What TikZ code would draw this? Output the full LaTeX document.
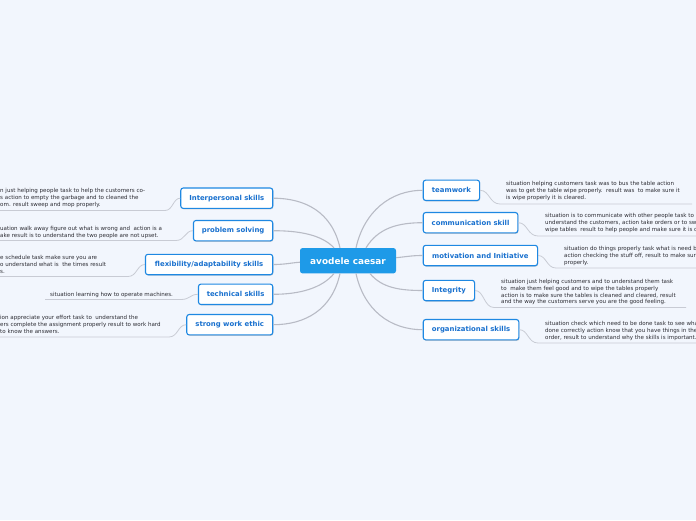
\documentclass[tikz,border=0pt]{standalone}
\usepackage{fontspec}
\setmainfont{DejaVu Sans}
\usetikzlibrary{shadows}
\definecolor{bg}{RGB}{242,246,253}
\definecolor{mainblue}{RGB}{30,154,232}
\definecolor{kidblue}{RGB}{30,136,226}
\definecolor{kidtext}{RGB}{24,112,206}
\definecolor{conn}{RGB}{184,187,197}
\definecolor{uln}{RGB}{200,203,212}
\definecolor{leaftext}{RGB}{45,45,52}
\begin{document}
\begin{tikzpicture}[x=1pt,y=-1pt,
  root/.style={fill=mainblue, rounded corners=2.5pt, text=white,
    font=\bfseries\fontsize{8.9}{10}\selectfont, minimum width=96pt,
    minimum height=25.3pt, inner sep=0pt},
  kid/.style={draw=kidblue, line width=1.1pt, fill=white, rounded corners=2.5pt,
    text=kidtext, font=\bfseries\fontsize{6.9}{8}\selectfont,
    minimum height=20.4pt, inner sep=0pt,
    drop shadow={shadow xshift=0.6pt, shadow yshift=-0.9pt, opacity=0.25, fill=black!70}},
  leaf/.style={anchor=north west, align=left, inner sep=0pt, text=leaftext,
    font=\fontsize{5.55}{6.9}\selectfont},
  link/.style={draw=conn, line width=1.1pt},
  leafline/.style={draw=uln, line width=0.8pt}
]
\fill[bg] (0,0) rectangle (696,520);
\useasboundingbox (0,0) rectangle (696,520);

% root
\node[root] (root) at (348,260.7) {avodele caesar};

% right children
\node[kid, anchor=west, minimum width=56.3pt]  (tw) at (422.7,190.3) {teamwork};
\node[kid, anchor=west, minimum width=94.6pt]  (cs) at (422.7,222.7) {communication skill};
\node[kid, anchor=west, minimum width=114.3pt] (mi) at (422.7,255.5) {motivation and Initiative};
\node[kid, anchor=west, minimum width=51.3pt]  (ig) at (422.7,290.5) {Integrity};
\node[kid, anchor=west, minimum width=95.6pt]  (os) at (422.7,329.7) {organizational skills};

% left children
\node[kid, anchor=east, minimum width=92pt]    (ip) at (273.3,198.2) {Interpersonal skills};
\node[kid, anchor=east, minimum width=79.3pt]  (ps) at (273.3,230.7) {problem solving};
\node[kid, anchor=east, minimum width=127.3pt] (fx) at (273.3,264.5) {flexibility/adaptability skills};
\node[kid, anchor=east, minimum width=74.3pt]  (ts) at (273.3,294.3) {technical skills};
\node[kid, anchor=east, minimum width=86pt]    (sw) at (273.3,324.7) {strong work ethic};

% root connectors
\draw[link] ([xshift=8pt]root.north) .. controls (364,212) and (390,190.3) .. (tw.west);
\draw[link] ([xshift=18pt]root.north) .. controls (378,228) and (398,222.7) .. (cs.west);
\draw[link] ([yshift=3pt]root.east) .. controls (408,256.5) and (412,255.5) .. (mi.west);
\draw[link] ([xshift=22pt]root.south) .. controls (382,288) and (400,290.5) .. (ig.west);
\draw[link] ([xshift=8pt]root.south) .. controls (364,310) and (390,329.7) .. (os.west);
\draw[link] ([xshift=-8pt]root.north) .. controls (332,212) and (305,198.2) .. (ip.east);
\draw[link] ([xshift=-14pt]root.north) .. controls (322,235) and (300,230.7) .. (ps.east);
\draw[link] ([yshift=-1.5pt]root.west) .. controls (290,263) and (285,264.5) .. (fx.east);
\draw[link] ([xshift=-14pt]root.south) .. controls (322,288) and (300,294.3) .. (ts.east);
\draw[link] ([xshift=-8pt]root.south) .. controls (332,310) and (305,324.7) .. (sw.east);

% underline coordinates
\coordinate (twA) at (500,204);   \coordinate (twB) at (692,204);
\coordinate (csA) at (538,236);   \coordinate (csB) at (696,236);
\coordinate (miA) at (556,268);   \coordinate (miB) at (696,268);
\coordinate (igA) at (494,307.5); \coordinate (igB) at (686,307.5);
\coordinate (osA) at (538,343);   \coordinate (osB) at (696,343);
\coordinate (ipA) at (165,210.5); \coordinate (ipB) at (0,210.5);
\coordinate (psA) at (176,240.5); \coordinate (psB) at (0,240.5);
\coordinate (fxA) at (128,276.5); \coordinate (fxB) at (0,276.5);
\coordinate (tsA) at (181,299.5); \coordinate (tsB) at (45,299.5);
\coordinate (swA) at (169,337);   \coordinate (swB) at (0,337);

% leaf connectors
\draw[leafline] (tw.east) .. controls (489.5,190.3) and (489.5,204) .. (twA) -- (twB);
\draw[leafline] (cs.east) .. controls (527.5,222.7) and (527.5,236) .. (csA) -- (csB);
\draw[leafline] (mi.east) .. controls (546.5,255.5) and (546.5,268) .. (miA) -- (miB);
\draw[leafline] (ig.east) .. controls (484,290.5) and (484,307.5) .. (igA) -- (igB);
\draw[leafline] (os.east) .. controls (528,329.7) and (528,343) .. (osA) -- (osB);
\draw[leafline] (ip.west) .. controls (173,198.2) and (173,210.5) .. (ipA) -- (ipB);
\draw[leafline] (ps.west) .. controls (185,230.7) and (185,240.5) .. (psA) -- (psB);
\draw[leafline] (fx.west) .. controls (137,264.5) and (137,276.5) .. (fxA) -- (fxB);
\draw[leafline] (ts.west) .. controls (190,294.3) and (190,299.5) .. (tsA) -- (tsB);
\draw[leafline] (sw.west) .. controls (178,324.7) and (178,337) .. (swA) -- (swB);

% leaf texts right
\node[leaf] (twT) at (506,180.8) {situation helping customers task was to bus the table action\\was to get the table wipe properly.\ \ result was\ \ to make sure it\\is wipe properly it is cleared.};
\node[leaf] (csT) at (545,212.8) {situation is to communicate with other people task to\\understand the customers, action take orders or to sw\\wipe tables\ \ result to help people and make sure it is c};
\node[leaf] (miT) at (564,245.8) {situation do things properly task what is need b\\action checking the stuff off, result to make sur\\properly.};
\node[leaf] (igT) at (501,278.8) {situation just helping customers and to understand them task\\to\ \ make them feel good and to wipe the tables properly\\action is to make sure the tables is cleaned and cleared, result\\and the way the customers serve you are the good feeling.};
\node[leaf] (osT) at (545,320.8) {situation check which need to be done task to see wha\\done correctly action know that you have things in the\\order, result to understand why the skills is important.};

% leaf texts left
\node[leaf] (ipT) at (0,187.8) {n just helping people task to help the customers co-\\s action to empty the garbage and to cleaned the\\om. result sweep and mop properly.};
\node[leaf] (psT) at (0,225.8) {uation walk away figure out what is wrong and\ \ action is a\\ake result is to understand the two people are not upset.};
\node[leaf] (fxT) at (0,254.8) {e schedule task make sure you are\\o understand what is\ \ the times result\\s.};
\node[leaf] (tsT) at (50,291.8) {situation learning how to operate machines.};
\node[leaf] (swT) at (0,315.3) {ion appreciate your effort task to\ \ understand the\\ers complete the assignment properly result to work hard\\to know the answers.};
\end{tikzpicture}
\end{document}
